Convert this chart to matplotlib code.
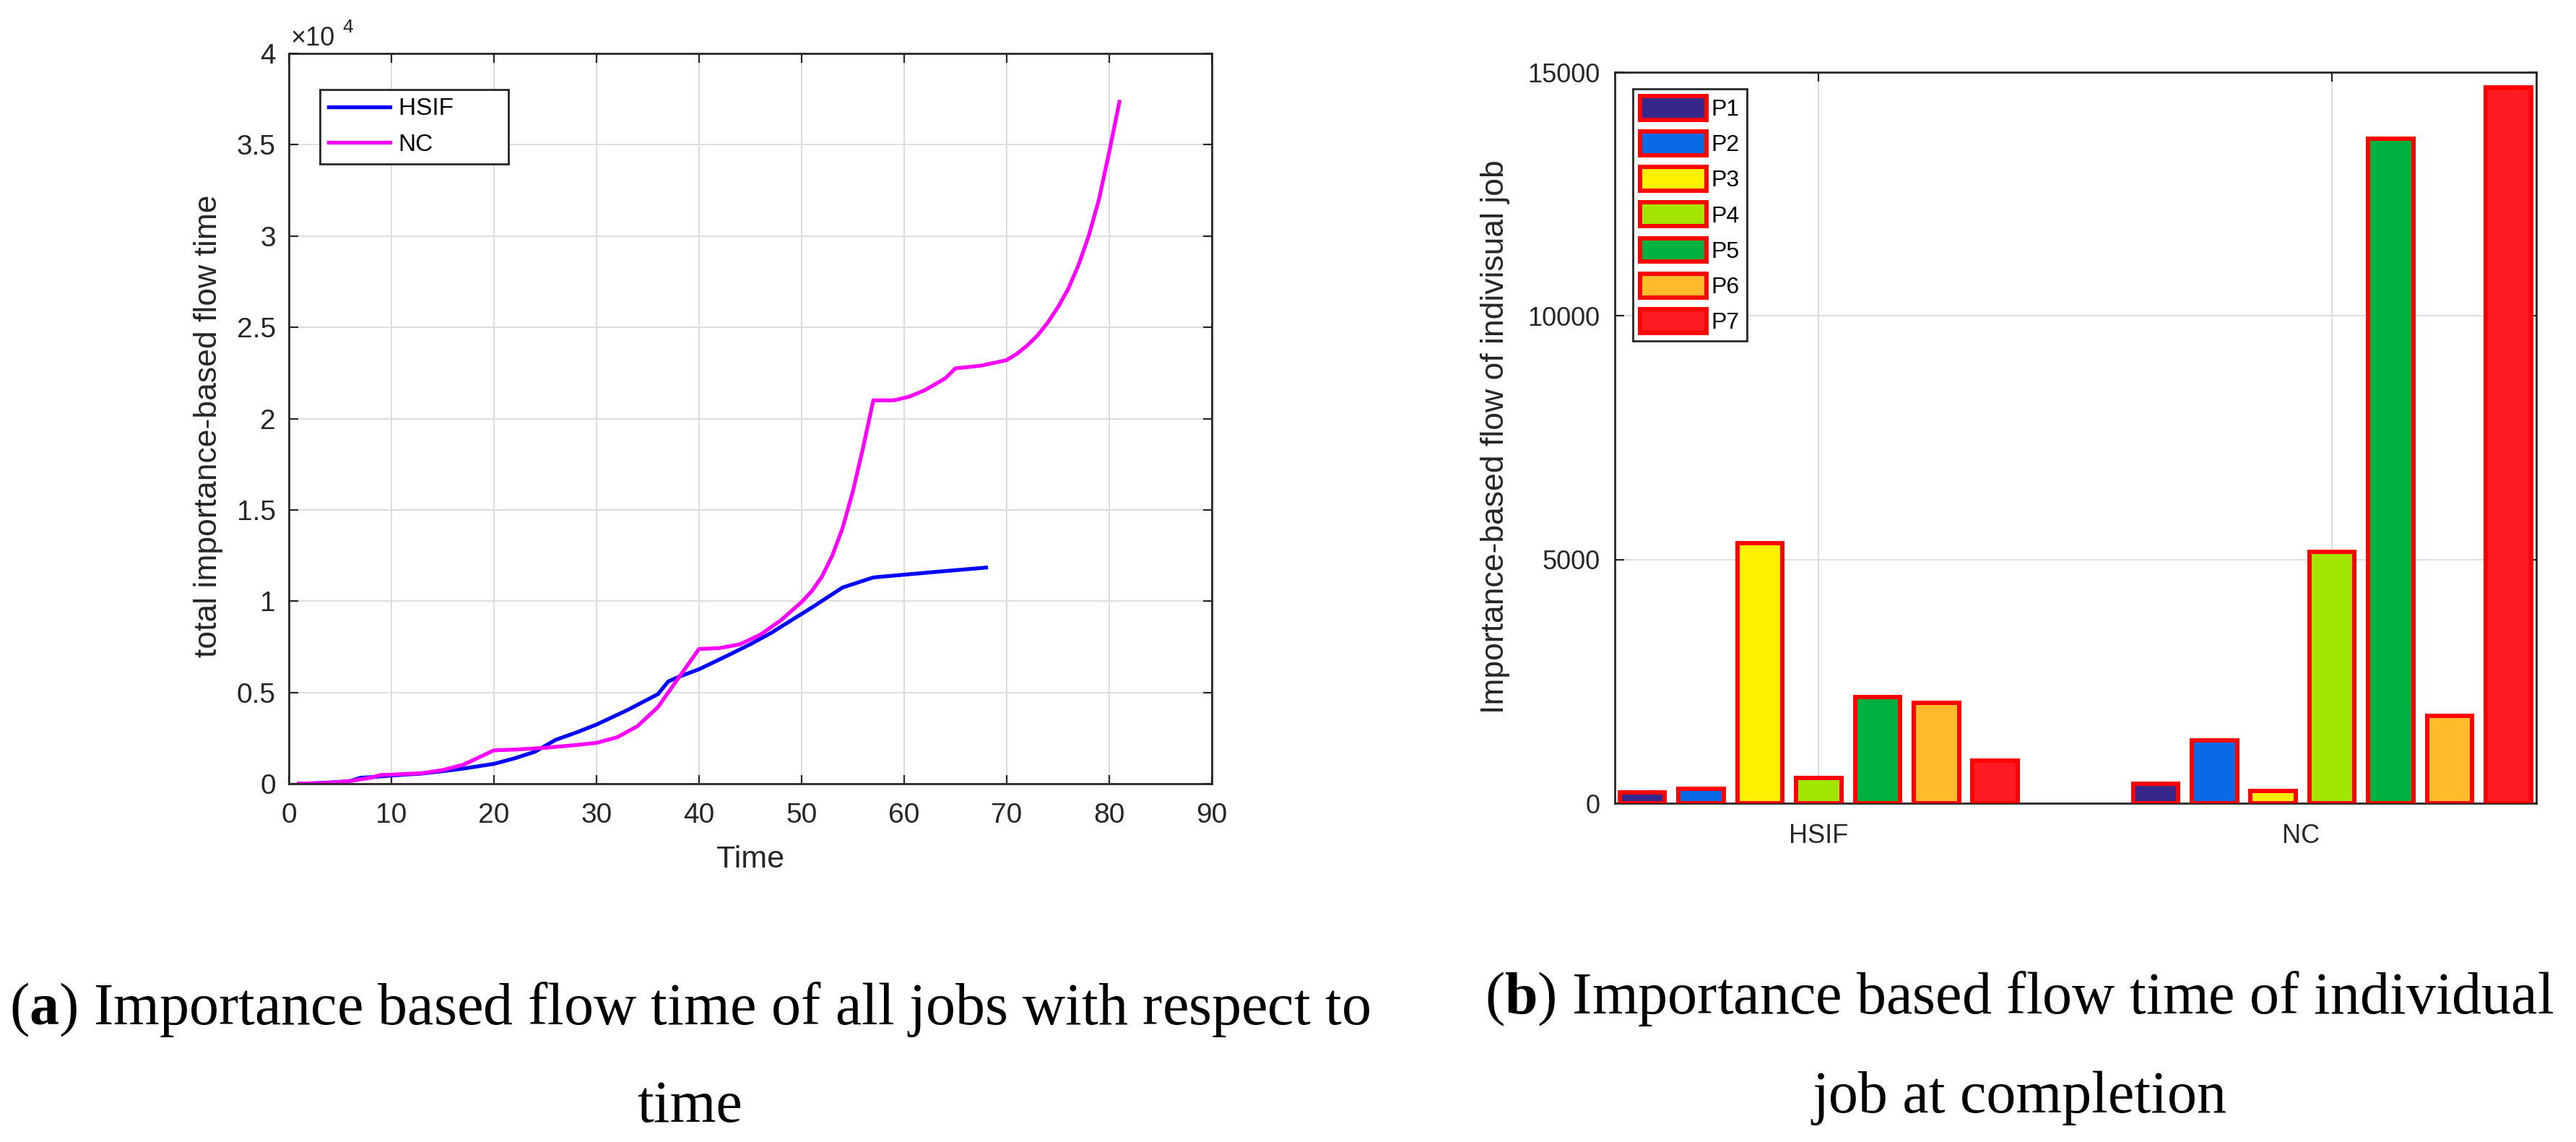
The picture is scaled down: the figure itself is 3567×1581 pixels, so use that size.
import numpy as np
import matplotlib
matplotlib.use('Agg')
import matplotlib.pyplot as plt
from matplotlib.transforms import ScaledTranslation

# (a) total importance-based flow time vs time
hsif_t = [1, 3, 5, 6, 7, 8, 10, 13, 15, 17, 20, 22, 24, 26, 28, 30, 33, 36, 37, 38,
          40, 43, 45, 47, 49, 51, 54, 57, 60, 63, 68]
hsif_y = [0, 40, 100, 150, 330, 360, 450, 560, 690, 830, 1090, 1390, 1750, 2400, 2800,
          3240, 4030, 4910, 5600, 5850, 6270, 7080, 7640, 8250, 8950, 9650, 10750,
          11300, 11450, 11600, 11840]

nc_t = [1, 4, 6, 8, 9, 10, 13, 15, 17, 18, 20, 22, 25, 28, 30, 32, 34, 36, 38, 40,
        42, 44, 46, 48, 50, 51, 52, 53, 54, 55, 56, 57, 59, 60.5, 62, 64, 65, 67.5,
        70, 71, 72, 73, 74, 75, 76, 77, 78, 79, 80, 81]
nc_y = [0, 50, 150, 330, 480, 500, 580, 750, 1040, 1300, 1830, 1870, 1970, 2120, 2240,
        2540, 3150, 4200, 5790, 7380, 7430, 7640, 8170, 8960, 9950, 10550, 11350,
        12500, 14000, 16000, 18400, 21000, 21000, 21200, 21550, 22200, 22750, 22900,
        23200, 23550, 24000, 24550, 25250, 26100, 27100, 28400, 30000, 32000, 34600,
        37350]

# (b) importance-based flow of each job at completion
groups = ['HSIF', 'NC']
jobs = ['P1', 'P2', 'P3', 'P4', 'P5', 'P6', 'P7']
hsif_jobs = [220, 300, 5340, 525, 2180, 2055, 875]
nc_jobs = [395, 1295, 257, 5160, 13640, 1800, 14690]
job_colors = ['#35288a', '#0a6ae6', '#fff200', '#a2e600', '#00b040', '#ffbb2a', '#ff1a22']

plt.rcParams['font.family'] = ['Liberation Sans', 'DejaVu Sans']
plt.rcParams['mathtext.fontset'] = 'custom'
plt.rcParams['mathtext.rm'] = 'Liberation Serif'
plt.rcParams['mathtext.bf'] = 'Liberation Serif:bold'

DARK = '#262626'


def matlab_box(ax, size):
    for s in ax.spines.values():
        s.set_linewidth(2.0)
        s.set_color(DARK)
    ax.tick_params(direction='in', length=9, width=1.6, top=True, right=True,
                   colors=DARK, labelsize=size)
    ax.grid(True, color='#dddddd', linewidth=1.4)
    ax.set_axisbelow(True)


fig = plt.figure(figsize=(35.67, 15.81), dpi=100)

# left panel
ax1 = fig.add_axes([0.1121, 0.3137, 0.3583, 0.6395])
matlab_box(ax1, 28)
ax1.plot(hsif_t, hsif_y, color='#0000ff', linewidth=3.8, label='HSIF       ')
ax1.plot(nc_t, nc_y, color='#ff00ff', linewidth=3.8, label='NC')
ax1.set_xlim(0, 90)
ax1.set_ylim(0, 40000)
ax1.set_xticks(range(0, 91, 10))
yt = list(range(0, 40001, 5000))
ax1.set_yticks(yt)
ax1.set_yticklabels(['%g' % (v / 1e4) for v in yt])
ax1.tick_params(axis='x', pad=19)
ax1.tick_params(axis='y', pad=13)
ax1.set_xlabel('Time', fontsize=31, color=DARK, va='center')
ax1.xaxis.set_label_coords(0.5, -0.104)
ax1.set_ylabel('total importance-based flow time', fontsize=32, color=DARK, va='center')
ax1.yaxis.set_label_coords(-0.087, 0.49)
ax1.text(0.002, 1.011, '\u00d710', transform=ax1.transAxes, fontsize=26,
         color=DARK, va='baseline')
ax1.text(0.058, 1.029, '4', transform=ax1.transAxes, fontsize=19,
         color=DARK, va='baseline')
leg1 = ax1.legend(loc='upper left', bbox_to_anchor=(0.034, 0.951), borderaxespad=0,
                  fontsize=24, handlelength=2.55, handletextpad=0.35, labelspacing=0.55,
                  borderpad=0.35, fancybox=False, edgecolor=DARK, framealpha=1)
leg1.get_frame().set_linewidth(2.0)

# right panel
ax2 = fig.add_axes([0.6269, 0.2966, 0.3577, 0.6401])
matlab_box(ax2, 26)
x = np.arange(len(groups)) + 1
step = 0.1146
width = 0.088
for i, name in enumerate(jobs):
    vals = [hsif_jobs[i], nc_jobs[i]]
    ax2.bar(x + (i - 3) * step, vals, width=width, color=job_colors[i],
            edgecolor='#ff0000', linewidth=4.3, label=name, zorder=3)
ax2.set_xlim(0.603, 2.398)
ax2.set_ylim(0, 15000)
ax2.set_yticks([0, 5000, 10000, 15000])
ax2.set_xticks(x)
ax2.set_xticklabels(groups)
ax2.tick_params(axis='x', pad=20)
ax2.tick_params(axis='y', pad=15)
nc_lab = ax2.get_xticklabels()[1]
nc_lab.set_transform(nc_lab.get_transform() + ScaledTranslation(-0.43, 0, fig.dpi_scale_trans))
ax2.set_ylabel('Importance-based flow of indivisual job', fontsize=32, color=DARK, va='center')
ax2.yaxis.set_label_coords(-0.130, 0.501)
leg2 = ax2.legend(loc='upper left', bbox_to_anchor=(0.0196, 0.977), borderaxespad=0,
                  fontsize=23, handlelength=2.9, handleheight=1.2, handletextpad=0.2,
                  labelspacing=0.47, borderpad=0.3, fancybox=False, edgecolor=DARK,
                  framealpha=1)
leg2.get_frame().set_linewidth(2.0)

# captions
cap = dict(ha='center', va='baseline', family='Liberation Serif', fontsize=59)
fig.text(0.2677, 0.1031, r'($\mathbf{a}$) Importance based flow time of all jobs with respect to', **cap)
fig.text(0.2677, 0.0177, 'time', **cap)
fig.text(0.7839, 0.1126, r'($\mathbf{b}$) Importance based flow time of individual', **cap)
fig.text(0.7839, 0.0259, 'job at completion', **cap)

fig.savefig('out.png', dpi=100)
